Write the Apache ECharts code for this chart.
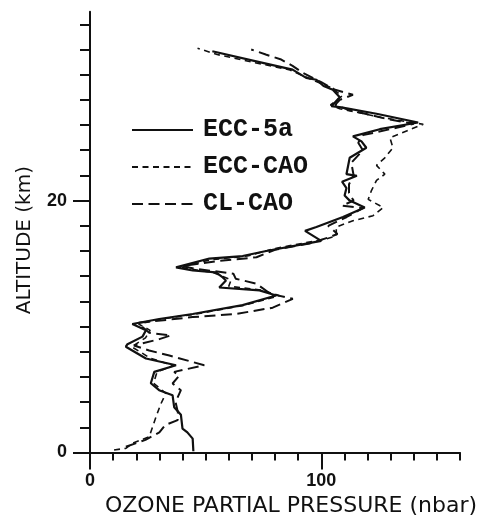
<!DOCTYPE html>
<html><head><meta charset="utf-8">
<script src="https://cdn.jsdelivr.net/npm/echarts@6/dist/echarts.min.js"></script>
<style>html,body{margin:0;padding:0;background:#fff}#c{width:481px;height:519px}</style>
</head><body><div id="c"></div>
<script>
// ECC-5a (solid)
const altECC5a = [0.1, 1.1, 1.6, 1.9, 3.0, 3.6, 4.55, 4.95, 5.5, 6.4, 6.93, 7.46, 8.4, 8.6, 9.2, 9.7, 10.2, 10.6, 11.0, 11.7, 12.47, 12.87, 13.1, 13.66, 13.9, 14.3, 14.45, 14.7, 15.4, 15.6, 16.0, 16.8, 17.6, 17.9, 18.7, 19.46, 20.0, 20.4, 21.0, 21.5, 21.97, 22.1, 23.4, 24.2, 24.7, 25.1, 25.67, 26.2, 26.9, 27.4, 27.5, 28.2, 28.8, 29.1, 29.6, 29.75, 30.4, 31.0, 31.86];
const valECC5a = [44.7, 44.4, 42.1, 40.0, 39.3, 36.4, 35.7, 29.9, 26.3, 27.8, 37.2, 24.2, 15.5, 16.2, 22.7, 24.2, 18.3, 29.9, 44.4, 66, 80.5, 73.3, 55.9, 58.8, 57.4, 54.5, 44.4, 37.2, 51.6, 66, 76.2, 100, 93, 97.9, 109.4, 118.8, 112.3, 110.1, 110.9, 109, 115.4, 110.9, 112.3, 119.5, 117.4, 113.7, 125.3, 141.9, 123.9, 108.7, 104.4, 108, 105, 101, 97.9, 93.5, 87.6, 73.3, 52.9];
// ECC-CAO (short dashes)
const altECCCAO = [0.2, 0.33, 0.73, 1.25, 2.0, 2.8, 3.8, 4.7, 5.5, 6.4, 6.9, 7.5, 8.4, 9.1, 9.7, 10.2, 10.6, 11.0, 11.7, 12.45, 12.9, 13.2, 13.7, 14.3, 14.7, 15.3, 15.6, 16.2, 16.96, 17.2, 17.9, 18.4, 18.8, 19.46, 20.1, 20.8, 21.6, 22.1, 22.8, 23.4, 24.2, 25.0, 25.53, 26.06, 26.6, 27.3, 27.6, 28.3, 29.0, 29.6, 30.4, 31.0, 31.6, 32.1];
const valECCCAO = [10.4, 15.5, 18.3, 25.6, 27, 28.5, 30.5, 32.8, 27.5, 29, 36, 26, 18, 24, 26, 21, 31, 46, 67, 82, 74, 60, 61, 53, 39, 52, 68, 80, 102.2, 106.5, 106.5, 113.7, 122.4, 126.8, 120.3, 121.7, 123.9, 127.5, 123.9, 127.5, 131, 129.7, 136.9, 144.1, 126, 108, 104, 109, 104, 96, 86, 70, 55, 46.5];
// CL-CAO (long dashes)
const altCLCAO = [0.46, 1.0, 1.6, 2.18, 2.57, 3.2, 4.0, 4.95, 5.48, 6.1, 6.4, 6.93, 7.7, 8.1, 8.5, 9.0, 9.3, 9.5, 10.0, 10.3, 10.75, 11.0, 11.5, 12.2, 12.6, 13.4, 13.8, 14.2, 14.6, 14.8, 15.2, 15.5, 16.1, 16.6, 17.1, 17.35, 18.0, 18.7, 19.4, 19.6, 20.0, 20.6, 21.3, 22.0, 23.0, 24.0, 24.6, 25.2, 25.8, 26.1, 26.5, 27.2, 27.6, 28.0, 28.4, 28.8, 29.4, 30.15, 30.7, 31.2, 31.6, 32.0];
const valCLCAO = [15.5, 24, 30, 32.5, 37.9, 38, 37, 39.3, 35.7, 38.6, 36.4, 49.4, 34.3, 25.6, 19, 30, 35, 25.6, 22.5, 21, 44.4, 63.2, 79, 87.7, 78, 72, 63, 62, 45, 40, 55, 72, 80, 95, 103.6, 107, 103, 111, 118, 109, 114, 112, 112, 114, 113, 118, 116, 118, 133, 140, 128, 112, 106, 108, 113.7, 106, 100, 92, 87.6, 82.7, 76, 69.7];

const seriesNames = ['ECC-5a', 'ECC-CAO', 'CL-CAO'];
const xMinorTicks = [10, 20, 30, 40, 50, 60, 70, 80, 90, 110, 120, 130, 140, 150, 160];
const xMajorTicks = [0, 100];
const yMinorTicks = [2, 4, 6, 8, 10, 12, 14, 16, 18, 22, 24, 26, 28, 30, 32, 34];
const yMajorTicks = [0, 20];
const xTitle = 'OZONE PARTIAL PRESSURE (nbar)';
const yTitle = 'ALTITUDE (km)';

function pairs(a, v) { return a.map((y, i) => [v[i], y]); }
const ink = '#111';
const tickFont = { fontFamily: 'Liberation Sans', fontWeight: 'bold', fontSize: 18, color: ink };

const chart = echarts.init(document.getElementById('c'));
chart.setOption({
  animation: false,
  grid: { left: 90, right: 21, top: 11.7, bottom: 66.5, outerBoundsMode: 'none', containLabel: false },
  legend: {
    orient: 'vertical', left: 126, top: 112,
    itemWidth: 61, itemHeight: 14, itemGap: 11,
    itemStyle: { color: 'rgba(0,0,0,0)', borderColor: 'rgba(0,0,0,0)', borderWidth: 0, opacity: 0 },
    textStyle: { fontFamily: 'Liberation Mono', fontWeight: 'bold', fontSize: 25, color: ink, lineHeight: 26, padding: [0, 0, 0, 5] },
    data: seriesNames
  },
  xAxis: [
    { type: 'value', min: 0, max: 160, interval: 10, position: 'bottom',
      axisLine: { lineStyle: { color: ink, width: 2 } },
      axisTick: { length: 8, customValues: xMinorTicks, lineStyle: { color: ink, width: 2 } },
      axisLabel: { show: false }, splitLine: { show: false } },
    { type: 'value', min: 0, max: 160, interval: 10, position: 'bottom',
      axisLine: { show: false },
      axisTick: { show: true, length: 17, customValues: xMajorTicks, lineStyle: { color: ink, width: 2 } },
      axisLabel: Object.assign({ customValues: xMajorTicks, margin: 20 }, tickFont),
      splitLine: { show: false },
      name: xTitle, nameLocation: 'middle', nameGap: 42,
      nameTextStyle: { fontFamily: 'DejaVu Sans', fontSize: 22, color: ink, padding: [0, 0, 0, 32] } }
  ],
  yAxis: [
    { type: 'value', min: 0, max: 35, interval: 2, position: 'left',
      axisLine: { lineStyle: { color: ink, width: 2 } },
      axisTick: { length: 10, customValues: yMinorTicks, lineStyle: { color: ink, width: 2 } },
      axisLabel: { show: false }, splitLine: { show: false } },
    { type: 'value', min: 0, max: 35, interval: 2, position: 'left',
      axisLine: { show: false },
      axisTick: { show: true, length: 17, customValues: yMajorTicks, lineStyle: { color: ink, width: 2 } },
      axisLabel: Object.assign({ customValues: yMajorTicks, margin: 23 }, tickFont),
      splitLine: { show: false },
      name: yTitle, nameLocation: 'middle', nameGap: 55,
      nameTextStyle: { fontFamily: 'DejaVu Sans', fontSize: 20, color: ink, padding: [0, 16, 0, 0] } }
  ],
  series: [
    { name: seriesNames[0], type: 'line', data: pairs(altECC5a, valECC5a), symbol: 'none', xAxisIndex: 0, yAxisIndex: 0,
      lineStyle: { color: ink, width: 2.2, type: 'solid' }, itemStyle: { color: ink } },
    { name: seriesNames[1], type: 'line', data: pairs(altECCCAO, valECCCAO), symbol: 'none', xAxisIndex: 0, yAxisIndex: 0,
      lineStyle: { color: ink, width: 1.6, type: [6, 4.5] }, itemStyle: { color: ink } },
    { name: seriesNames[2], type: 'line', data: pairs(altCLCAO, valCLCAO), symbol: 'none', xAxisIndex: 0, yAxisIndex: 0,
      lineStyle: { color: ink, width: 2, type: [11, 5.5] }, itemStyle: { color: ink } }
  ]
});
</script></body></html>
